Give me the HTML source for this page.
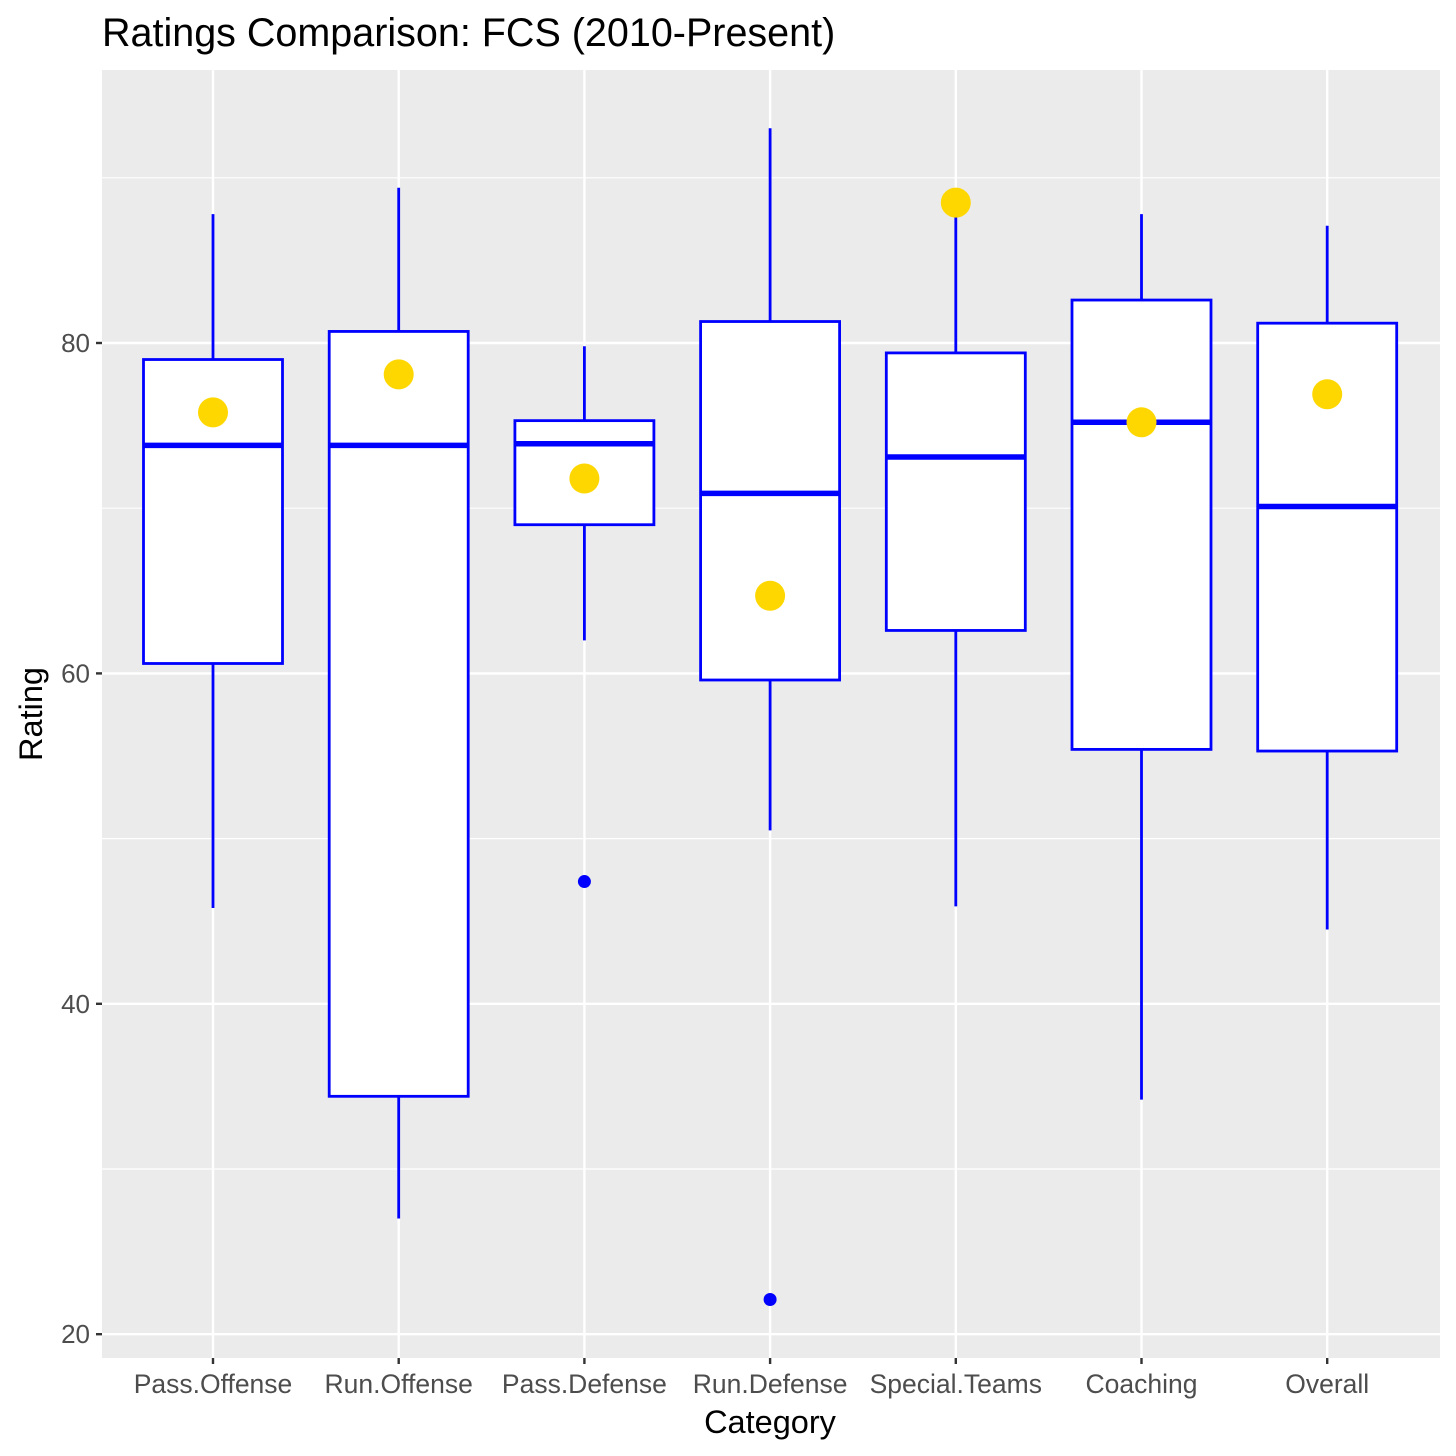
<!DOCTYPE html>
<html><head><meta charset="utf-8"><style>body{margin:0;background:#fff}svg{display:block}text{font-family:"Liberation Sans",sans-serif}</style></head>
<body>
<svg id="chart" width="1456" height="1456">
<rect width="1456" height="1456" fill="#fff"/>
<text x="102" y="46" font-size="39.5" fill="#000">Ratings Comparison: FCS (2010-Present)</text>
<rect x="102" y="70" width="1338" height="1288" fill="#ebebeb"/>
<g id="grid"></g><g id="marks"></g><g id="axes"></g>
<text x="770" y="1433" font-size="32.5" text-anchor="middle" fill="#000">Category</text>
<text transform="translate(42,714) rotate(-90)" font-size="32.5" text-anchor="middle" fill="#000">Rating</text>
</svg>
<script>
const categories=["Pass.Offense","Run.Offense","Pass.Defense","Run.Defense","Special.Teams","Coaching","Overall"];
const whiskerLow=[45.8,27.0,62.0,50.5,45.9,34.2,44.5];
const q1=[60.6,34.4,69.0,59.6,62.6,55.4,55.3];
const median=[73.8,73.8,73.9,70.9,73.1,75.2,70.1];
const q3=[79.0,80.7,75.3,81.3,79.4,82.6,81.2];
const whiskerHigh=[87.8,89.4,79.8,93.0,87.7,87.8,87.1];
const outlierCat=[2,3];
const outlierVal=[47.4,22.1];
const highlight=[75.8,78.1,71.8,64.7,88.5,75.2,76.9];
const yTicks=[20,40,60,80];
const yMinor=[30,50,70,90];
const NS="http://www.w3.org/2000/svg";
const y=v=>343+(80-v)*16.52;
const step=185.7, x=i=>213+i*step, bw=139;
function mk(p,t,a){const e=document.createElementNS(NS,t);for(const k in a)e.setAttribute(k,a[k]);p.appendChild(e);return e;}
const grid=document.getElementById('grid'),marks=document.getElementById('marks'),axes=document.getElementById('axes');
yMinor.forEach(v=>{const l=mk(grid,'line',{x1:102,x2:1440,y1:y(v),y2:y(v),stroke:'#fff','stroke-width':1.2});

});
yTicks.forEach(v=>{const l=mk(grid,'line',{x1:102,x2:1440,y1:y(v),y2:y(v),stroke:'#fff','stroke-width':2.4});


const t=mk(axes,'line',{x1:96,x2:102,y1:y(v),y2:y(v),stroke:'#333','stroke-width':2.4});


const tx=mk(axes,'text',{x:90,y:y(v)+9,'font-size':26,'text-anchor':'end',fill:'#4d4d4d'});tx.textContent=v;

});
categories.forEach((c,i)=>{const l=mk(grid,'line',{x1:x(i),x2:x(i),y1:70,y2:1358,stroke:'#fff','stroke-width':2.4});


const t=mk(axes,'line',{x1:x(i),x2:x(i),y1:1358,y2:1364,stroke:'#333','stroke-width':2.4});


const tx=mk(axes,'text',{x:x(i),y:1393,'font-size':26.5,'text-anchor':'middle',fill:'#4d4d4d'});tx.textContent=c;


const g=mk(marks,'g',{});


mk(g,'line',{x1:x(i),x2:x(i),y1:y(whiskerHigh[i]),y2:y(q3[i]),stroke:'#00f','stroke-width':2.8});
mk(g,'line',{x1:x(i),x2:x(i),y1:y(q1[i]),y2:y(whiskerLow[i]),stroke:'#00f','stroke-width':2.8});
mk(g,'rect',{x:x(i)-bw/2,y:y(q3[i]),width:bw,height:y(q1[i])-y(q3[i]),fill:'#fff',stroke:'#00f','stroke-width':2.8});
mk(g,'line',{x1:x(i)-bw/2,x2:x(i)+bw/2,y1:y(median[i]),y2:y(median[i]),stroke:'#00f','stroke-width':5.5});});
outlierCat.forEach((ci,k)=>{const o=mk(marks,'circle',{cx:x(ci),cy:y(outlierVal[k]),r:6.5,fill:'#00f'});

});
highlight.forEach((v,i)=>{const p=mk(marks,'circle',{cx:x(i),cy:y(v),r:15,fill:'#ffd700'});

});
</script>
</body></html>
